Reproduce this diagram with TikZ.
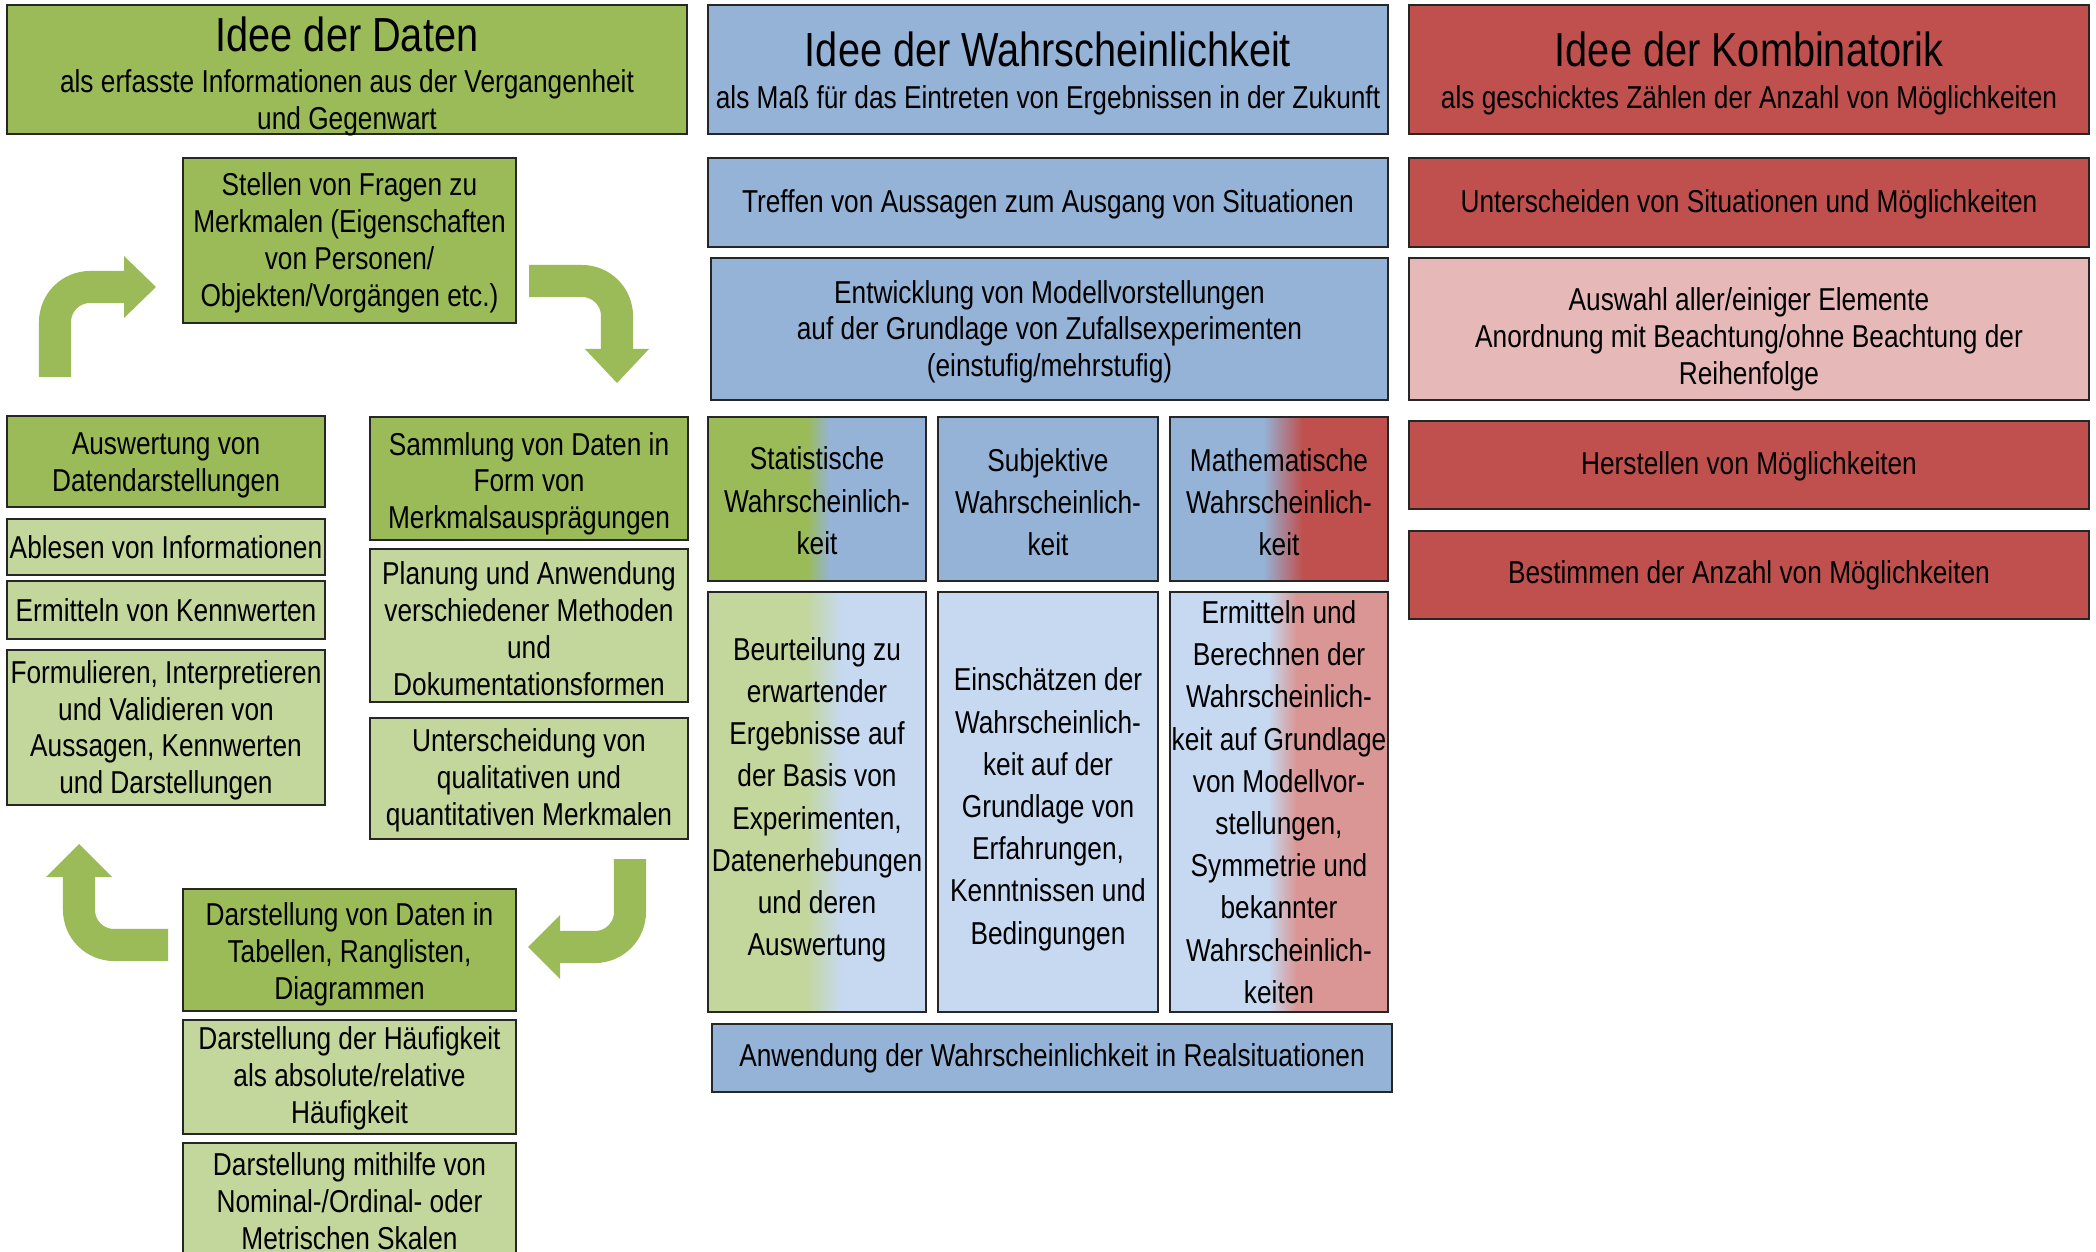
\documentclass[tikz,border=0pt]{standalone}
\usepackage{fontspec}
\setmainfont{Liberation Sans}[FakeStretch=0.83]
\usetikzlibrary{calc}
\definecolor{gD}{HTML}{9BBB59}
\definecolor{gL}{HTML}{C3D69B}
\definecolor{bD}{HTML}{95B3D7}
\definecolor{bL}{HTML}{C6D9F1}
\definecolor{rD}{HTML}{C0504D}
\definecolor{rM}{HTML}{D99694}
\definecolor{rL}{HTML}{E6B9B8}
\definecolor{tM}{HTML}{74A8A6}
% #1 text options, #2 name, #3-#6 corners, #7 frame style, #8 text
\newcommand\bxnode[8][]{%
  \pgfmathsetmacro\bxw{(#5-#3)*0.01}%
  \pgfmathsetmacro\bxh{(#6-#4)*0.01}%
  \node[frame,#7,minimum width=\bxw cm,minimum height=\bxh cm] (#2) at ({(#3+#5)/2},{(#4+#6)/2}) {};
  \node[txt,#1] (#2-t) at (#2.center) {#8};}
\newcommand\ttl[1]{{\fontsize{13.6}{14}\selectfont #1}}
\begin{document}
\begin{tikzpicture}[x=0.01cm,y=-0.01cm,
  frame/.style={draw=black!85, line width=0.75pt, inner sep=0pt},
  txt/.style={inner sep=0pt, align=center, font=\fontsize{9}{10.5}\selectfont},
  wide/.style={font=\fontsize{9}{12}\selectfont},
  gdark/.style={fill=gD}, glight/.style={fill=gL},
  bdark/.style={fill=bD}, blight/.style={fill=bL},
  rdark/.style={fill=rD}, rlight/.style={fill=rL},
  shaft/.style={draw=gD, line width=0.32cm, rounded corners=0.35cm},
  head/.style={fill=gD}]
\fill[white] (0,0) rectangle (2096,1252);
\useasboundingbox (0,0) rectangle (2096,1252);

% gradient backgrounds
\fill[gD] (708,417) rectangle (808,581);
\shade[left color=gD,middle color=tM,right color=bD] (807,417) rectangle (830,581);
\fill[bD] (829,417) rectangle (926,581);
\fill[gL] (708,592) rectangle (806,1012);
\shade[left color=gL,right color=bL] (805,592) rectangle (842,1012);
\fill[bL] (841,592) rectangle (926,1012);
\fill[bD] (1170,417) rectangle (1264,581);
\shade[left color=bD,right color=rD] (1263,417) rectangle (1303,581);
\fill[rD] (1302,417) rectangle (1388,581);
\fill[bL] (1170,592) rectangle (1269,1012);
\shade[left color=bL,right color=rM] (1268,592) rectangle (1297,1012);
\fill[rM] (1296,592) rectangle (1388,1012);

% headers
\bxnode[yshift=-1.9pt]{hD}{7}{5}{687}{134}{gdark}{\ttl{Idee der Daten}\\[1.3pt]als erfasste Informationen aus der Vergangenheit\\und Gegenwart}
\bxnode[yshift=-1.15pt]{hW}{708}{5}{1388}{134}{bdark}{\ttl{Idee der Wahrscheinlichkeit}\\[1.3pt]als Maß für das Eintreten von Ergebnissen in der Zukunft}
\bxnode[yshift=-1.15pt]{hK}{1409}{5}{2089}{134}{rdark}{\ttl{Idee der Kombinatorik}\\[1.3pt]als geschicktes Zählen der Anzahl von Möglichkeiten}

% Daten column
\bxnode[yshift=-0.75pt]{stellen}{183}{158}{516}{323}{gdark}{Stellen von Fragen zu\\Merkmalen (Eigenschaften\\von Personen/\\Objekten/Vorgängen etc.)}
\bxnode[yshift=-1pt]{ausw}{7}{416}{325}{507}{gdark}{Auswertung von\\Datendarstellungen}
\bxnode{ables}{7}{519}{325}{575}{glight}{Ablesen von Informationen}
\bxnode{ermk}{7}{581}{325}{639}{glight}{Ermitteln von Kennwerten}
\bxnode[yshift=-0.8pt]{form}{7}{650}{325}{805}{glight}{Formulieren, Interpretieren\\und Validieren von\\Aussagen, Kennwerten\\und Darstellungen}
\bxnode[yshift=-1.5pt]{samml}{370}{417}{688}{540}{gdark}{Sammlung von Daten in\\Form von\\Merkmalsausprägungen}
\bxnode[yshift=-0.8pt]{plan}{370}{549}{688}{702}{glight}{Planung und Anwendung\\verschiedener Methoden\\und\\Dokumentationsformen}
\bxnode[yshift=-0.4pt]{untq}{370}{718}{688}{839}{glight}{Unterscheidung von\\qualitativen und\\quantitativen Merkmalen}
\bxnode[yshift=-1.3pt]{darst}{183}{889}{516}{1011}{gdark}{Darstellung von Daten in\\Tabellen, Ranglisten,\\Diagrammen}
\bxnode[yshift=-0.4pt]{haeuf}{183}{1020}{516}{1134}{glight}{Darstellung der Häufigkeit\\als absolute/relative\\Häufigkeit}
\bxnode[yshift=0.7pt]{skal}{183}{1143}{516}{1264}{glight}{Darstellung mithilfe von\\Nominal-/Ordinal- oder\\Metrischen Skalen}

% cycle arrows
\coordinate (tlS) at (55,377); \coordinate (tlE) at (124,287);
\draw[shaft] (tlS) |- (tlE);
\fill[head] (124,256) -- (156,287) -- (124,318) -- cycle;
\coordinate (trS) at (529,281); \coordinate (trE) at (617,349);
\draw[shaft] (trS) -| (trE);
\fill[head] (585,349) -- (649,349) -- (617,383) -- cycle;
\coordinate (brS) at (630,859); \coordinate (brE) at (560,947);
\draw[shaft] (brS) |- (brE);
\fill[head] (560,915) -- (528,947) -- (560,979) -- cycle;
\coordinate (blS) at (168,945); \coordinate (blE) at (79,877);
\draw[shaft] (blS) -| (blE);
\fill[head] (46,877) -- (79,844) -- (112,877) -- cycle;

% Wahrscheinlichkeit column
\bxnode[yshift=-0.4pt]{treff}{708}{158}{1388}{247}{bdark}{Treffen von Aussagen zum Ausgang von Situationen}
\bxnode[yshift=-0.8pt]{entw}{711}{258}{1388}{400}{bdark}{Entwicklung von Modellvorstellungen\\auf der Grundlage von Zufallsexperimenten\\(einstufig/mehrstufig)}
\bxnode[wide,yshift=-0.5pt]{stat}{708}{417}{926}{581}{}{Statistische\\Wahrscheinlich-\\keit}
\bxnode[wide,yshift=-0.9pt]{subj}{938}{417}{1158}{581}{bdark}{Subjektive\\Wahrscheinlich-\\keit}
\bxnode[wide,yshift=-0.9pt]{math}{1170}{417}{1388}{581}{}{Mathematische\\Wahrscheinlich-\\keit}
\bxnode[wide,yshift=0.6pt]{beurt}{708}{592}{926}{1012}{}{Beurteilung zu\\erwartender\\Ergebnisse auf\\der Basis von\\Experimenten,\\Datenerhebungen\\und deren\\Auswertung}
\bxnode[wide,yshift=-2.1pt]{einsch}{938}{592}{1158}{1012}{blight}{Einschätzen der\\Wahrscheinlich-\\keit auf der\\Grundlage von\\Erfahrungen,\\Kenntnissen und\\Bedingungen}
\bxnode[wide]{berech}{1170}{592}{1388}{1012}{}{Ermitteln und\\Berechnen der\\Wahrscheinlich-\\keit auf Grundlage\\von Modellvor-\\stellungen,\\Symmetrie und\\bekannter\\Wahrscheinlich-\\keiten}
\bxnode{anw}{712}{1024}{1392}{1092}{bdark}{Anwendung der Wahrscheinlichkeit in Realsituationen}

% Kombinatorik column
\bxnode[yshift=-0.4pt]{untsch}{1409}{158}{2089}{247}{rdark}{Unterscheiden von Situationen und Möglichkeiten}
\bxnode[yshift=-2.85pt]{ausw2}{1409}{258}{2089}{400}{rlight}{Auswahl aller/einiger Elemente\\Anordnung mit Beachtung/ohne Beachtung der\\Reihenfolge}
\bxnode[yshift=-0.4pt]{herst}{1409}{421}{2089}{509}{rdark}{Herstellen von Möglichkeiten}
\bxnode{bestm}{1409}{531}{2089}{619}{rdark}{Bestimmen der Anzahl von Möglichkeiten}
\end{tikzpicture}
\end{document}
